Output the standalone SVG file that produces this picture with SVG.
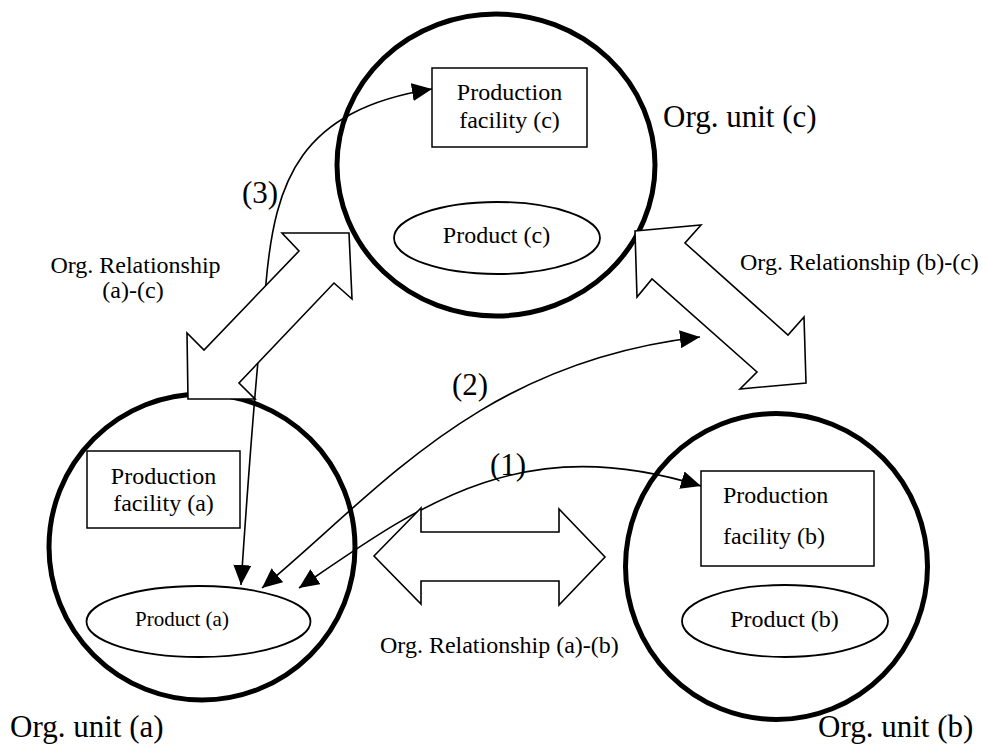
<svg xmlns="http://www.w3.org/2000/svg" width="982" height="747" viewBox="0 0 982 747">
<style>
text{font-family:"Liberation Serif","Times New Roman",serif;fill:#000}
.unit{fill:none;stroke:#000;stroke-width:5}
.box{fill:#fff;stroke:#000;stroke-width:1.5}
.prod{fill:#fff;stroke:#000;stroke-width:1.8}
.rel{fill:#fff;stroke:#000;stroke-width:1.6;stroke-linejoin:miter}
.con{fill:none;stroke:#000;stroke-width:1.6;marker-start:url(#ah);marker-end:url(#ah)}
.t24{font-size:24px}
.t31{font-size:31px}
</style>
<defs>
<marker id="ah" markerUnits="userSpaceOnUse" markerWidth="20" markerHeight="18" refX="20" refY="9" orient="auto-start-reverse" viewBox="0 0 20 18">
<path d="M0,0 L20,9 L0,18 z" fill="#000"/>
</marker>
</defs>
<rect width="982" height="747" fill="#fff"/>

<g id="unit-c">
<ellipse class="unit" cx="496" cy="165" rx="159" ry="151"/>
<rect class="box" x="432" y="68" width="155" height="79"/>
<text class="t24" x="509.5" y="100" text-anchor="middle">Production</text>
<text class="t24" x="509.5" y="128" text-anchor="middle">facility (c)</text>
<ellipse class="prod" cx="497" cy="238" rx="103" ry="36"/>
<text class="t24" x="496.5" y="243" text-anchor="middle">Product (c)</text>
<text class="t31" x="663" y="127">Org. unit (c)</text>
</g>

<g id="unit-a">
<circle class="unit" cx="202" cy="547" r="153"/>
<rect class="box" x="87" y="451" width="153" height="77"/>
<text class="t24" x="163.5" y="484" text-anchor="middle">Production</text>
<text class="t24" x="163.5" y="511" text-anchor="middle">facility (a)</text>
<ellipse class="prod" cx="198.5" cy="621.5" rx="112" ry="35.5"/>
<text x="182" y="626" font-size="21" text-anchor="middle">Product (a)</text>
<text class="t31" x="10" y="737">Org. unit (a)</text>
</g>

<g id="unit-b">
<ellipse class="unit" cx="776.5" cy="566.5" rx="151" ry="153"/>
<rect class="box" x="701" y="471" width="173" height="95"/>
<text class="t24" x="723" y="503">Production</text>
<text class="t24" x="723" y="544">facility (b)</text>
<ellipse class="prod" cx="785" cy="621" rx="103" ry="36"/>
<text class="t24" x="784.5" y="627" text-anchor="middle">Product (b)</text>
<text class="t31" x="818" y="737">Org. unit (b)</text>
</g>

<g id="connectors">
<path id="flow1" class="con" d="M299,588 C420,505 520,430 701,486"/>
<path id="flow2" class="con" d="M262,588 C380,490 480,362 700,337"/>
<path id="flow3" class="con" d="M241,585 C250,450 258,350 266,283 C275,180 300,110 432,89"/>
</g>

<g id="relationships">
<polygon id="rel-ab" class="rel" points="374,556 421,508 421,532 559,532 559,509 605,557 559,605 559,581 421,581 421,604"/>
<polygon id="rel-ac" class="rel" points="349,233 352,299 334,283 239,383 255,399 188,399 187,333 204,350 299,251 282,233"/>
<polygon id="rel-bc" class="rel" points="635,231 701,225 685,243 788,335 804,317 806,383 740,389 757,372 652,279 637,297"/>
</g>

<g id="labels">
<text class="t24" x="135.5" y="273" text-anchor="middle">Org. Relationship</text>
<text class="t24" x="133" y="298" text-anchor="middle">(a)-(c)</text>
<text class="t24" x="740" y="270">Org. Relationship (b)-(c)</text>
<text class="t24" x="380" y="653">Org. Relationship (a)-(b)</text>
<text class="t31" x="490" y="475">(1)</text>
<text class="t31" x="452" y="395">(2)</text>
<text class="t31" x="242" y="203">(3)</text>
</g>
</svg>
